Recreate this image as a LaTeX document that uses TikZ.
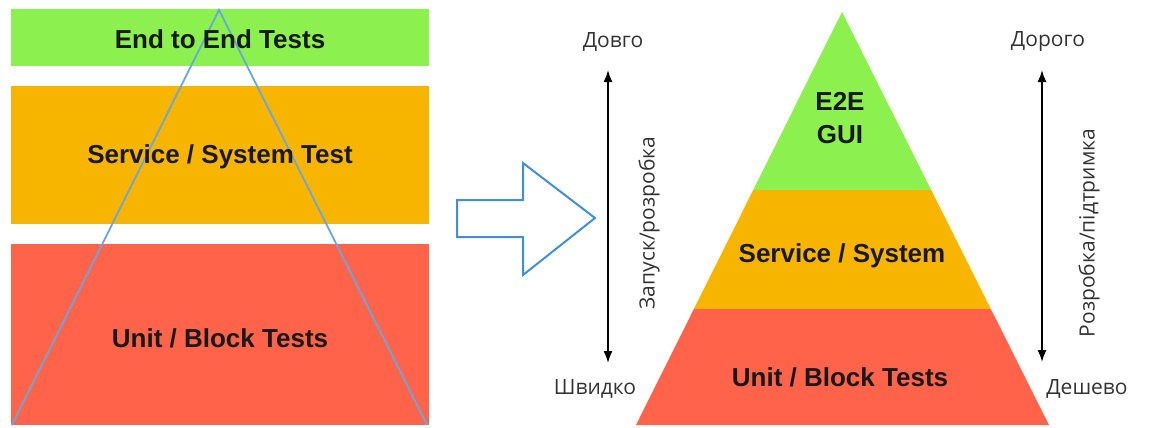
\documentclass[tikz,border=0pt]{standalone}
\usepackage{fontspec}
\setmainfont{Liberation Sans}
\newfontfamily\cyrfont{Open Sans}
\usetikzlibrary{arrows.meta}
\definecolor{lvlgreen}{HTML}{8CF04E}
\definecolor{lvlorange}{HTML}{F8B500}
\definecolor{lvlred}{HTML}{FF634A}
\definecolor{lineblue}{HTML}{6AA6DE}
\definecolor{arrowblue}{HTML}{3F8FDC}
\tikzset{
	level/.style={font=\bfseries\fontsize{13}{16.5}\selectfont, text=black!90, align=center},
	note/.style={font=\cyrfont\fontsize{10.5}{12}\selectfont, text=black!80},
	span/.style={{Latex[length=6pt,width=4.5pt]}-{Latex[length=6pt,width=4.5pt]}, line width=0.8pt},
}
\begin{document}
\begin{tikzpicture}[x=0.5pt, y=-0.5pt]
	\useasboundingbox (0,0) rectangle (1152,428);
	% stacked bands with the triangle laid over them
	\fill[lvlgreen] (11,9) rectangle (429,66);
	\fill[lvlorange] (11,86) rectangle (429,224);
	\fill[lvlred] (11,244) rectangle (429,425);
	\draw[lineblue, line width=0.9pt] (12,425) -- (219,10) -- (427,425);
	\node[level] (e2eband) at (220,39) {End to End Tests};
	\node[level] (serviceband) at (220,157) {Service / System Test};
	\node[level] (unitband) at (220,338) {Unit / Block Tests};
	% hollow block arrow
	\draw[arrowblue, line width=1pt, line join=miter] (457,200) -- (523,200) -- (523,163) -- (595,218)
		-- (523,275) -- (523,237) -- (457,237) -- cycle;
	% run time scale
	\coordinate (runtop) at (608,70);
	\coordinate (runbot) at (608,363);
	\draw[span] (runtop) -- (runbot);
	\node[note] (slow) at (613,42) {Довго};
	\node[note] (fast) at (595,389) {Швидко};
	\node[note, rotate=90] (runlabel) at (649,223) {Запуск/розробка};
	% pyramid
	\begin{scope}
		\clip (842,12) -- (1049,425) -- (636,425) -- cycle;
		\fill[lvlgreen] (600,0) rectangle (1100,190);
		\fill[lvlorange] (600,190) rectangle (1100,309);
		\fill[lvlred] (600,309) rectangle (1100,428);
	\end{scope}
	\node[level] (e2etier) at (840,118) {E2E\\GUI};
	\node[level] (servicetier) at (842,256) {Service / System};
	\node[level] (unittier) at (840,377) {Unit / Block Tests};
	% cost scale
	\coordinate (costtop) at (1042,70);
	\coordinate (costbot) at (1042,362);
	\draw[span] (costtop) -- (costbot);
	\node[note] (dear) at (1048,42) {Дорого};
	\node[note] (cheap) at (1087,389) {Дешево};
	\node[note, rotate=90] (costlabel) at (1089,233) {Розробка/підтримка};
\end{tikzpicture}
\end{document}
